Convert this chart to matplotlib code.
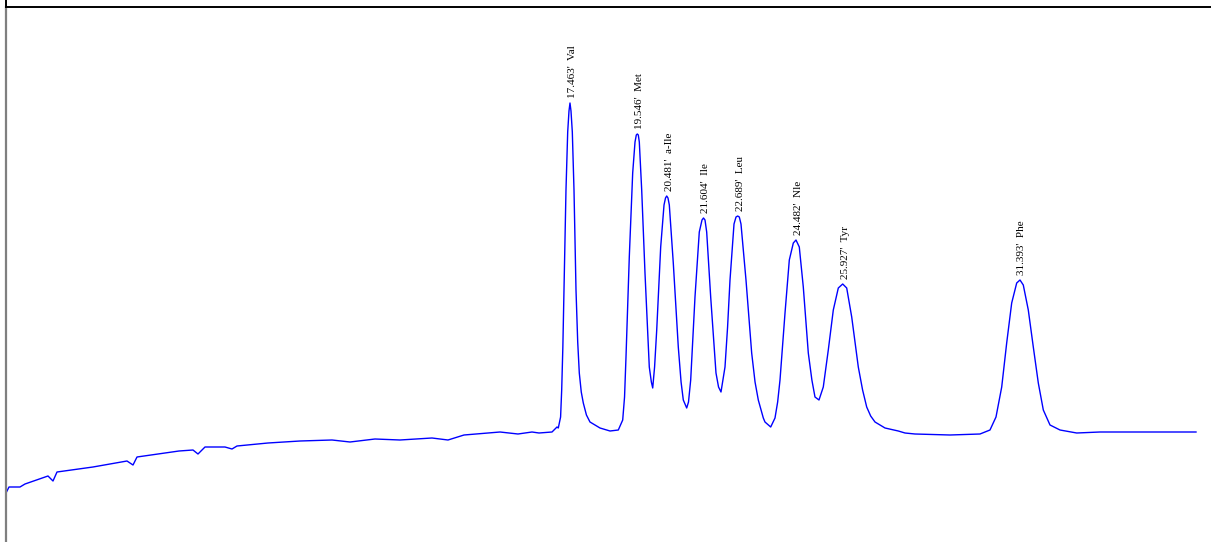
import matplotlib
matplotlib.use("Agg")
import matplotlib.pyplot as plt
from matplotlib.lines import Line2D

# Chromatogram trace: retention time (min) and detector signal (a.u.)
time_min = [
    0.000, 0.093, 0.433, 0.588, 1.300, 1.455, 1.579, 2.693, 3.746, 3.932, 4.056,
    5.356, 5.789, 5.944, 6.161, 6.780, 6.997, 7.152, 8.111, 9.102, 10.093, 10.650,
    11.424, 12.198, 13.189, 13.684, 14.180, 15.294, 15.851, 16.285, 16.502, 16.904,
    17.059,
    # Val
    17.099, 17.170, 17.204, 17.240, 17.276, 17.337, 17.390, 17.430, 17.461, 17.492,
    17.533, 17.585, 17.647, 17.700, 17.749, 17.810, 17.873, 17.970, 18.080, 18.390,
    18.700, 18.957, 19.093,
    # Met
    19.150, 19.195, 19.297, 19.402, 19.474, 19.514, 19.545, 19.576, 19.607, 19.681,
    19.783, 19.916, 19.980, 20.022,
    # a-Ile
    20.080, 20.146, 20.269, 20.372, 20.418, 20.455, 20.495, 20.536, 20.659, 20.814,
    20.900, 20.969, 21.074,
    # Ile
    21.130, 21.198, 21.331, 21.464, 21.548, 21.594, 21.641, 21.693, 21.817, 21.981,
    22.060, 22.136, 22.260,
    # Leu
    22.340, 22.415, 22.539, 22.601, 22.653, 22.703, 22.755, 22.910, 23.086, 23.190,
    23.291, 23.446, 23.498, 23.675, 23.808,
    # Nle
    23.890, 23.963, 24.118, 24.251, 24.375, 24.458, 24.560, 24.684, 24.839, 24.950,
    25.046, 25.170, 25.303,
    # Tyr
    25.458, 25.613, 25.768, 25.904, 26.028, 26.183, 26.387, 26.520, 26.647, 26.770,
    26.904, 27.214, 27.625, 27.833, 28.142, 29.226, 30.155,
    # Phe
    30.464, 30.650, 30.827, 30.981, 31.136, 31.291, 31.393, 31.495, 31.650, 31.805,
    31.960, 32.115, 32.322, 32.632, 33.149, 33.870, 34.799, 35.728, 36.842,
]
signal = [
    49, 55, 55, 58, 66, 61, 70, 75, 81, 77, 85,
    91, 92, 88, 95, 95, 93, 96, 99, 101, 102, 100,
    103, 102, 104, 102, 107, 110, 108, 110, 109, 110,
    115,
    114, 125, 152, 195, 252, 352, 410, 431, 439, 431,
    410, 352, 252, 200, 169, 150, 139, 127, 120, 114,
    111, 112, 122,
    145, 185, 285, 369, 400, 407, 408, 407, 400, 352,
    269, 175, 160, 154,
    175, 212, 295, 337, 344, 346, 344, 337, 279, 195,
    160, 142, 134,
    140, 162, 245, 310, 322, 324, 322, 310, 245, 169,
    155, 150, 175,
    215, 262, 318, 325, 326, 325, 318, 262, 189, 160,
    142, 124, 120, 115, 124,
    140, 162, 229, 282, 299, 302, 295, 255, 189, 162,
    145, 142, 155,
    192, 232, 254, 258, 254, 225, 175, 152, 135, 126,
    120, 114, 111, 109, 108, 107, 108,
    112, 125, 155, 199, 239, 259, 262, 257, 232, 195,
    159, 132, 117, 112, 109, 110, 110, 110, 110,
]

# Peak annotations
peak_times = [17.463, 19.546, 20.481, 21.604, 22.689, 24.482, 25.927, 31.393]
peak_heights = [439, 408, 346, 324, 326, 302, 258, 262]
peak_names = ["Val", "Met", "a-Ile", "Ile", "Leu", "Nle", "Tyr", "Phe"]

W, H = 1211, 542
fig = plt.figure(figsize=(W / 100, H / 100), dpi=100)
left_px, top_px = 6, 7
ax = fig.add_axes([left_px / W, 0, 1 - left_px / W, 1 - top_px / H])

ax.plot(time_min, signal, color="#0000ff", lw=1.0, solid_joinstyle="round")

ax.set_xlim(0, (W - left_px) / 32.3)
ax.set_ylim(0, H - top_px)
ax.set_xticks([])
ax.set_yticks([])

for sp in ("right", "bottom"):
    ax.spines[sp].set_visible(False)
ax.spines["top"].set_color("black")
ax.spines["top"].set_linewidth(1.4)
ax.spines["left"].set_color("#7f7f7f")
ax.spines["left"].set_linewidth(1.6)

# short black border segment above the plot frame
fig.add_artist(Line2D([left_px / W, left_px / W], [1 - top_px / H, 1.0],
                      transform=fig.transFigure, color="black", lw=1.4))

for t, h, name in zip(peak_times, peak_heights, peak_names):
    ax.annotate(f"{t:.3f}'  {name}", xy=(t, h), xytext=(2, 5),
                textcoords="offset pixels", rotation=90, ha="center", va="bottom",
                fontsize=8, family=["Liberation Serif", "DejaVu Serif"])

fig.savefig("out.png", dpi=100)
